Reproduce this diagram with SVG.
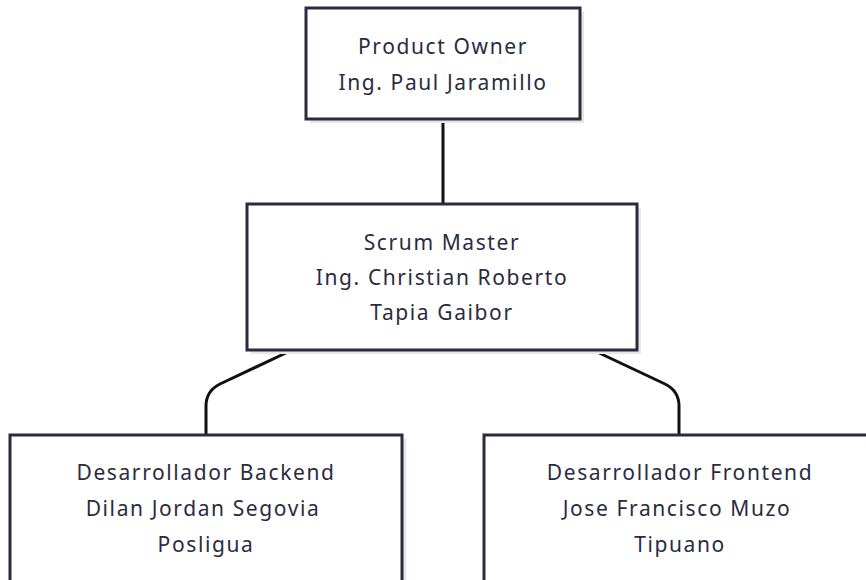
<svg xmlns="http://www.w3.org/2000/svg" width="866" height="580" viewBox="0 0 866 580">
  <style>
    .box { fill: #ffffff; stroke: #2b2b40; stroke-width: 3; }
    .shadow { fill: #e6e6e6; }
    .label { font-family: "Noto Sans", "Open Sans", sans-serif; font-size: 21px; fill: #2b2b40; text-anchor: middle; letter-spacing: 1.6px; }
    .edge { fill: none; stroke: #111111; stroke-width: 3; }
  </style>
  <rect width="866" height="580" fill="#ffffff"/>

  <g id="connectors">
    <path class="edge" d="M443,119 L443,204"/>
    <path class="edge" d="M290,351 L220,384 Q206,391 206,406 L206,435"/>
    <path class="edge" d="M595,351 L665,384 Q679,391 679,406 L679,435"/>
  </g>

  <g id="product-owner">
    <rect class="shadow" x="310" y="12" width="274" height="111"/>
    <rect class="box" x="306" y="8" width="274" height="111"/>
    <text class="label" x="443" y="54">Product Owner</text>
    <text class="label" x="443" y="90">Ing. Paul Jaramillo</text>
  </g>

  <g id="scrum-master">
    <rect class="shadow" x="251" y="208" width="390" height="146"/>
    <rect class="box" x="247" y="204" width="390" height="146"/>
    <text class="label" x="442" y="250">Scrum Master</text>
    <text class="label" x="442" y="285">Ing. Christian Roberto</text>
    <text class="label" x="442" y="320">Tapia Gaibor</text>
  </g>

  <g id="dev-backend">
    <rect class="shadow" x="14" y="439" width="392" height="160"/>
    <rect class="box" x="10" y="435" width="392" height="160"/>
    <text class="label" x="206" y="480">Desarrollador Backend</text>
    <text class="label" x="203" y="516">Dilan Jordan Segovia</text>
    <text class="label" x="206" y="552">Posligua</text>
  </g>

  <g id="dev-frontend">
    <rect class="shadow" x="488" y="439" width="392" height="160"/>
    <rect class="box" x="484" y="435" width="392" height="160"/>
    <text class="label" x="680" y="480">Desarrollador Frontend</text>
    <text class="label" x="677" y="516">Jose Francisco Muzo</text>
    <text class="label" x="680" y="552">Tipuano</text>
  </g>
</svg>
